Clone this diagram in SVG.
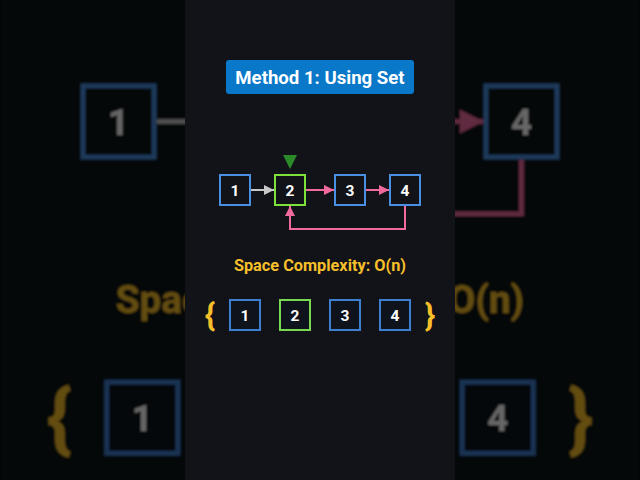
<svg xmlns="http://www.w3.org/2000/svg" xmlns:xlink="http://www.w3.org/1999/xlink" width="640" height="480" viewBox="0 0 640 480">
<style>
.panel{fill:#111318}
.title{font-family:Roboto,"Liberation Sans",sans-serif;font-weight:bold;font-size:18.6px;fill:#ffffff}
.node rect{fill:#111318;stroke:#4a90e2;stroke-width:2}
.node.cur rect{stroke:#7ee03a}
.lbl{font-family:Roboto,"Liberation Sans",sans-serif;font-weight:bold;font-size:15.5px;fill:#ffffff;text-anchor:middle}
.sc{font-family:Roboto,"Liberation Sans",sans-serif;font-weight:bold;font-size:16.3px;fill:#f7bf2a;text-anchor:middle}
.brace{font-family:Roboto,"Liberation Sans",sans-serif;font-weight:bold;font-size:32px;fill:#f7bf2a;text-anchor:middle}
.setn rect{fill:#0f131c;stroke:#3f7fd0;stroke-width:2}
.setn.cur rect{stroke:#78d850}
.gray{stroke:#c8c8c8;stroke-width:2;fill:none}
.pink{stroke:#f06aa0;stroke-width:2;fill:none}
</style>
<defs>
<marker id="ag" viewBox="0 0 10 10" refX="10" refY="5" markerWidth="5" markerHeight="5" orient="auto" markerUnits="strokeWidth"><path d="M0,0L10,5L0,10z" fill="#c8c8c8"/></marker>
<marker id="ap" viewBox="0 0 10 10" refX="10" refY="5" markerWidth="5" markerHeight="5" orient="auto" markerUnits="strokeWidth"><path d="M0,0L10,5L0,10z" fill="#f06aa0"/></marker>
<filter id="bl" x="-10%" y="-10%" width="120%" height="120%"><feGaussianBlur stdDeviation="1.2"/></filter>
</defs>
<rect width="640" height="480" fill="#000000"/>
<g opacity="0.4" filter="url(#bl)">
<use xlink:href="#frame" href="#frame" transform="translate(320,240) scale(2.37) translate(-320,-240)"/>
</g>
<g id="frame">
<rect class="panel" x="185" y="0" width="270" height="480"/>
<g id="title">
<rect x="226" y="60" width="188" height="34" rx="3" fill="#0a78c8"/>
<text class="title" x="320" y="83.5" text-anchor="middle">Method 1: Using Set</text>
</g>
<g id="connectors">
<path class="gray" d="M251,190H274" marker-end="url(#ag)"/>
<path class="pink" d="M306,190H334" marker-end="url(#ap)"/>
<path class="pink" d="M366,190H389" marker-end="url(#ap)"/>
<path class="pink" d="M405,206V229H290V206" marker-end="url(#ap)"/>
</g>
<polygon id="pointer" points="283,155 297,155 290,169" fill="#2a8a2a"/>
<g id="n1" class="node"><rect x="220" y="175" width="30" height="30"/><text class="lbl" x="235" y="195.5">1</text></g>
<g id="n2" class="node cur"><rect x="275" y="175" width="30" height="30"/><text class="lbl" x="290" y="195.5">2</text></g>
<g id="n3" class="node"><rect x="335" y="175" width="30" height="30"/><text class="lbl" x="350" y="195.5">3</text></g>
<g id="n4" class="node"><rect x="390" y="175" width="30" height="30"/><text class="lbl" x="405" y="195.5">4</text></g>
<text id="space" class="sc" x="320" y="271">Space Complexity: O(n)</text>
<g id="set">
<text class="brace" x="210" y="326">{</text>
<g id="s1" class="setn"><rect x="230" y="300" width="30" height="30"/><text class="lbl" x="245" y="320.5">1</text></g>
<g id="s2" class="setn cur"><rect x="280" y="300" width="30" height="30"/><text class="lbl" x="295" y="320.5">2</text></g>
<g id="s3" class="setn"><rect x="330" y="300" width="30" height="30"/><text class="lbl" x="345" y="320.5">3</text></g>
<g id="s4" class="setn"><rect x="380" y="300" width="30" height="30"/><text class="lbl" x="395" y="320.5">4</text></g>
<text class="brace" x="430" y="326">}</text>
</g>
</g>
</svg>
